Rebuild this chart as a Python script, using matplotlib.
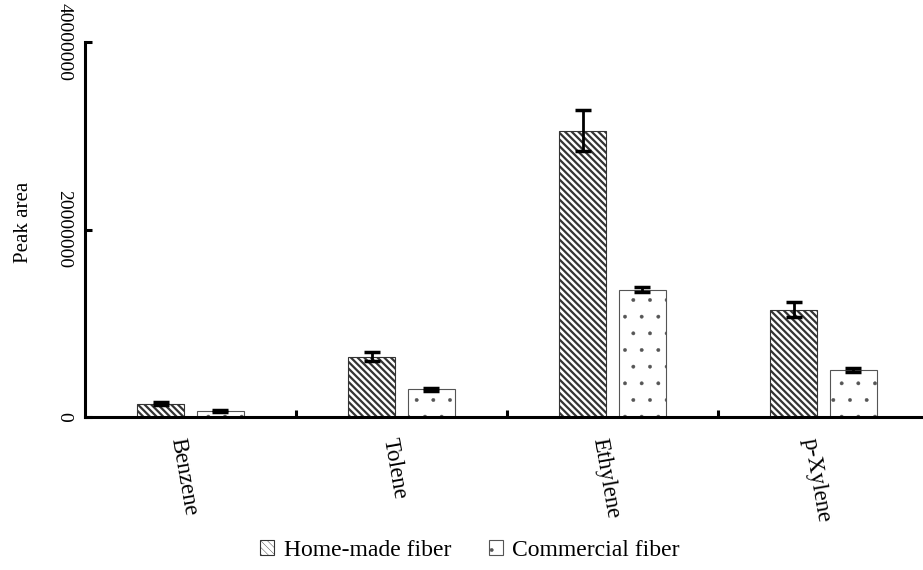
import matplotlib
matplotlib.use("Agg")
import matplotlib.pyplot as plt
import matplotlib.transforms as mtransforms
import numpy as np

categories = ["Benzene", "Tolene", "Ethylene", "p-Xylene"]
home_made = [1.44e6, 6.45e6, 30.55e6, 11.45e6]
home_err = [0.12e6, 0.5e6, 2.2e6, 0.82e6]
commercial = [0.67e6, 2.96e6, 13.6e6, 5.03e6]
comm_err = [0.1e6, 0.15e6, 0.3e6, 0.2e6]
series_names = ["Home-made fiber", "Commercial fiber"]
yticks = [0, 20000000, 40000000]
ytick_labels = ["0", "20000000", "40000000"]

plt.rcParams['font.family'] = ['Liberation Serif', 'DejaVu Serif']

fig = plt.figure(figsize=(9.23, 5.70), dpi=100)
ax = fig.add_axes([85/923, 1 - 417/570, 844/923, 375/570])

x = np.arange(len(categories)) + 0.5
w = 0.22
off = 0.142


def set_hlw(container, lw):
    for p in container:
        if hasattr(p, 'set_hatch_linewidth'):
            p.set_hatch_linewidth(lw)


plt.rcParams['hatch.linewidth'] = 1.6
b1 = ax.bar(x - off, home_made, w, facecolor='white', edgecolor='#333333',
            linewidth=0.8, hatch='\\\\\\\\\\', label=series_names[0], zorder=2)
set_hlw(b1, 1.6)
plt.rcParams['hatch.linewidth'] = 0.3
b2 = ax.bar(x + off, commercial, w, facecolor='white', edgecolor='#555555',
            linewidth=0.8, hatch='.', label=series_names[1], zorder=2)
set_hlw(b2, 0.3)

ax.errorbar(x - off, home_made, yerr=home_err, fmt='none', ecolor='black',
            elinewidth=2, capsize=5.5, capthick=2.5, zorder=3)
ax.errorbar(x + off, commercial, yerr=comm_err, fmt='none', ecolor='black',
            elinewidth=2, capsize=5.5, capthick=2.5, zorder=3)

ax.set_xlim(0, len(categories))
ax.set_ylim(0, 40000000)

for s in ['top', 'right']:
    ax.spines[s].set_visible(False)
for s in ['left', 'bottom']:
    ax.spines[s].set_linewidth(2.2)

ax.set_xticks([1, 2, 3])
ax.set_xticklabels([])
ax.tick_params(axis='x', which='major', direction='in', length=5, width=2.2)
ax.set_xticks(x, minor=True)
ax.set_xticklabels(categories, minor=True, rotation=-80, ha='center', va='top',
                   fontsize=16.5)
ax.tick_params(axis='x', which='minor', length=0, pad=14)
shift = mtransforms.ScaledTranslation(-7/100, 0, fig.dpi_scale_trans)
for lab in ax.get_xticklabels(minor=True):
    lab.set_transform(lab.get_transform() + shift)

ax.set_yticks(yticks)
ax.set_yticklabels(ytick_labels, rotation=-90, va='center', ha='right', fontsize=14)
ax.tick_params(axis='y', direction='in', length=5, width=2.2, pad=9)

ax.set_ylabel("Peak area", fontsize=15)
ax.yaxis.set_label_coords(-0.062, 0.52)

fig.legend(loc='center', bbox_to_anchor=(470/923, 1 - 550/570), ncol=2,
           frameon=False, fontsize=17, handlelength=0.6, handleheight=0.6,
           handletextpad=0.4, columnspacing=1.6)

fig.savefig("out.png", dpi=100)
